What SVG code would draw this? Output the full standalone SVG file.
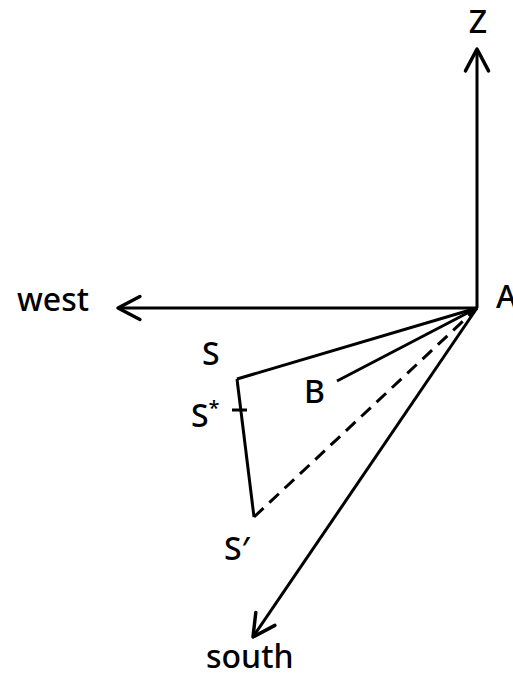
<svg xmlns="http://www.w3.org/2000/svg" width="513" height="674" viewBox="0 0 513 674">
  <style>
    .ln { stroke: #000; stroke-width: 3; fill: none; stroke-linecap: butt; stroke-linejoin: round; }
    .dash { stroke-dasharray: 13 8; }
    .lbl { font-family: "Noto Sans", "Open Sans", "DejaVu Sans", sans-serif; font-size: 32px; font-weight: 500; fill: #000; }
  </style>
  <defs>
    <marker id="arr" markerUnits="userSpaceOnUse" markerWidth="30" markerHeight="30" viewBox="-22 -12 26 24" refX="0" refY="0" orient="auto" overflow="visible">
      <path d="M-19,-10 L0,0 L-19,10" fill="none" stroke="#000" stroke-width="3" stroke-linejoin="round" stroke-linecap="round"/>
    </marker>
  </defs>
  <rect width="513" height="674" fill="#fff"/>
  <g id="connectors">
    <line id="axis-z" class="ln" x1="477" y1="308" x2="477" y2="49" marker-end="url(#arr)"/>
    <line id="axis-west" class="ln" x1="477" y1="308" x2="118" y2="308" marker-end="url(#arr)"/>
    <line id="axis-south" class="ln" x1="477" y1="308" x2="253" y2="637" marker-end="url(#arr)"/>
    <line id="A-S" class="ln" x1="477" y1="308" x2="237" y2="379"/>
    <line id="A-B" class="ln" x1="477" y1="308" x2="337" y2="381"/>
    <line id="S-S2" class="ln" x1="237" y1="379" x2="254" y2="517"/>
    <line id="S2-A" class="ln dash" x1="254" y1="517" x2="477" y2="308"/>
    <line id="tick-Sstar" class="ln" x1="232" y1="410" x2="247" y2="410"/>
  </g>
  <g id="node-Z"><text class="lbl" x="478" y="33" text-anchor="middle">Z</text></g>
  <g id="node-A"><text class="lbl" x="496" y="308">A</text></g>
  <g id="node-west"><text class="lbl" x="17" y="311">west</text></g>
  <g id="node-south"><text class="lbl" x="206" y="668">south</text></g>
  <g id="node-S"><text class="lbl" x="202" y="365">S</text></g>
  <g id="node-Sstar"><text class="lbl" x="191" y="427">S<tspan font-size="20" dy="-12">*</tspan></text></g>
  <g id="node-B"><text class="lbl" x="304" y="403">B</text></g>
  <g id="node-Sprime"><text class="lbl" x="224" y="560">S′</text></g>
</svg>
